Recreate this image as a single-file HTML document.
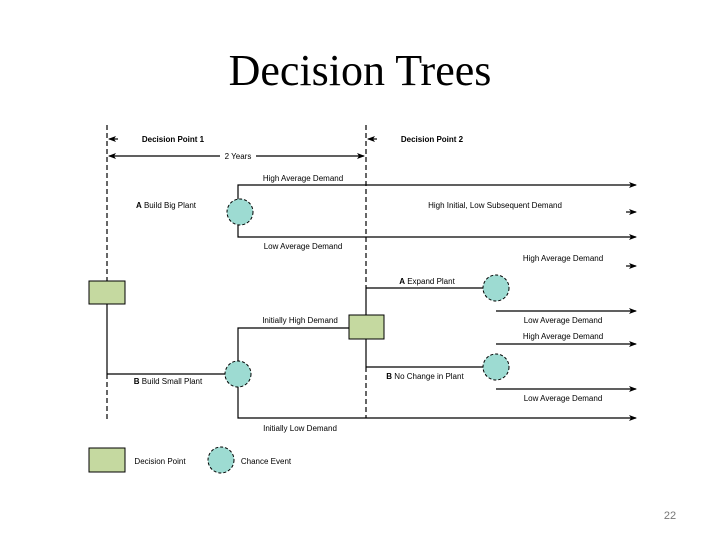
<!DOCTYPE html>
<html><head><meta charset="utf-8"><style>
html,body{margin:0;padding:0;background:#fff;}
</style></head><body>
<svg width="720" height="540" xmlns="http://www.w3.org/2000/svg" font-family="Liberation Sans, sans-serif">
<defs>
<marker id="ar" markerWidth="8" markerHeight="6" refX="7" refY="3" orient="auto" markerUnits="userSpaceOnUse"><path d="M0,0 L8,3 L0,6 L2,3Z" fill="#000"/></marker>
<marker id="al" markerWidth="8" markerHeight="6" refX="1" refY="3" orient="auto" markerUnits="userSpaceOnUse"><path d="M8,0 L0,3 L8,6 L6,3Z" fill="#000"/></marker>
</defs>
<text x="360" y="85" text-anchor="middle" font-family="Liberation Serif, serif" font-size="44">Decision Trees</text>
<text x="670" y="519" text-anchor="middle" font-size="11" fill="#777">22</text>
<g stroke="#000" stroke-width="1.2" fill="none">
<line x1="107" y1="125" x2="107" y2="281" stroke-dasharray="5,3"/>
<line x1="107" y1="374" x2="107" y2="420" stroke-dasharray="5,3"/>
<line x1="107" y1="304" x2="107" y2="374"/>
<line x1="366" y1="125" x2="366" y2="288" stroke-dasharray="5,3"/>
<line x1="366" y1="367" x2="366" y2="418" stroke-dasharray="5,3"/>
<line x1="366" y1="288" x2="366" y2="367"/>
<line x1="109" y1="139" x2="118" y2="139" marker-start="url(#al)"/>
<line x1="368" y1="139" x2="377" y2="139" marker-start="url(#al)"/>
<line x1="109" y1="156" x2="220" y2="156" marker-start="url(#al)"/>
<line x1="256" y1="156" x2="364" y2="156" marker-end="url(#ar)"/>
<polyline points="238,200 238,185 636,185" marker-end="url(#ar)"/>
<polyline points="238,225 238,237 636,237" marker-end="url(#ar)"/>
<line x1="626" y1="212" x2="636" y2="212" marker-end="url(#ar)"/>
<line x1="626" y1="266" x2="636" y2="266" marker-end="url(#ar)"/>
<line x1="107" y1="374" x2="225" y2="374"/>
<polyline points="238,361 238,328 349,328"/>
<polyline points="238,387 238,418 636,418" marker-end="url(#ar)"/>
<line x1="366" y1="288" x2="483" y2="288"/>
<line x1="366" y1="367" x2="483" y2="367"/>
<line x1="496" y1="311" x2="636" y2="311" marker-end="url(#ar)"/>
<line x1="496" y1="344" x2="636" y2="344" marker-end="url(#ar)"/>
<line x1="496" y1="389" x2="636" y2="389" marker-end="url(#ar)"/>
</g>
<g fill="#c5d9a0" stroke="#000" stroke-width="1">
<rect x="89" y="281" width="36" height="23"/>
<rect x="349" y="315" width="35" height="24"/>
<rect x="89" y="448" width="36" height="24"/>
</g>
<g fill="#9ddbd2" stroke="#000" stroke-width="1" stroke-dasharray="3,2">
<circle cx="240" cy="212" r="13"/>
<circle cx="238" cy="374" r="13"/>
<circle cx="496" cy="288" r="13"/>
<circle cx="496" cy="367" r="13"/>
<circle cx="221" cy="460" r="13"/>
</g>
<g font-size="8" fill="#000" text-anchor="middle">
<text x="173" y="142" font-weight="bold">Decision Point 1</text>
<text x="432" y="142" font-weight="bold">Decision Point 2</text>
<text x="238" y="159">2 Years</text>
<text x="303" y="181">High Average Demand</text>
<text x="166" y="208"><tspan font-weight="bold">A</tspan> Build Big Plant</text>
<text x="303" y="249">Low Average Demand</text>
<text x="495" y="208">High Initial, Low Subsequent Demand</text>
<text x="563" y="261">High Average Demand</text>
<text x="427" y="284"><tspan font-weight="bold">A</tspan> Expand Plant</text>
<text x="300" y="323">Initially High Demand</text>
<text x="563" y="323">Low Average Demand</text>
<text x="563" y="339">High Average Demand</text>
<text x="425" y="379"><tspan font-weight="bold">B</tspan> No Change in Plant</text>
<text x="168" y="384"><tspan font-weight="bold">B</tspan> Build Small Plant</text>
<text x="563" y="401">Low Average Demand</text>
<text x="300" y="431">Initially Low Demand</text>
<text x="160" y="464">Decision Point</text>
<text x="266" y="464">Chance Event</text>
</g>
</svg>
</body></html>
